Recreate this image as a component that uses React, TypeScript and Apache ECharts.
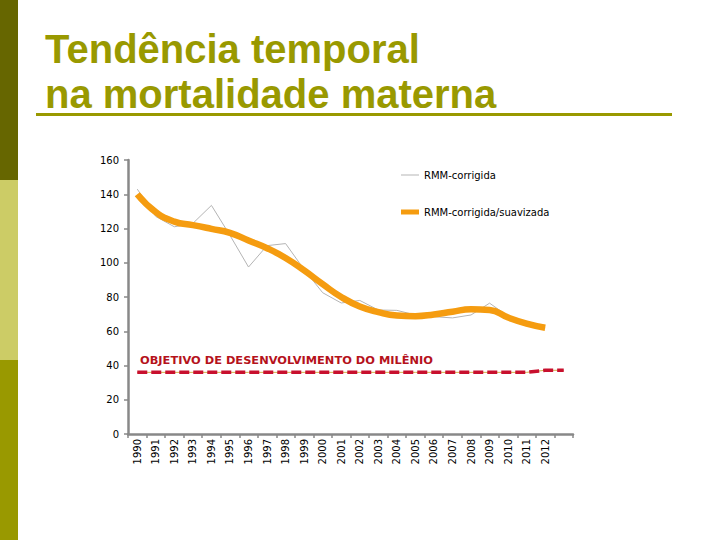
import React, { useEffect, useRef } from "react";
import * as echarts from "echarts";

const categories = [
  "1990", "1991", "1992", "1993", "1994", "1995", "1996", "1997", "1998", "1999",
  "2000", "2001", "2002", "2003", "2004", "2005", "2006", "2007", "2008", "2009",
  "2010", "2011", "2012", "",
];

const rmmCorrigida = [
  143, 127, 121, 123, 133.5, 116, 97.5, 110, 111.2, 96, 82.5, 76.5, 78, 72.4, 72.2,
  69.5, 68.5, 67.8, 69.5, 76.4, 68.8, 65.2, 62,
];

const rmmSuavizada = [
  140, 129.6, 124, 122, 119.8, 117.5, 113, 108.5, 102.8, 95.5, 87.5, 80, 74.5, 71.2,
  69.2, 68.8, 69.8, 71.4, 72.8, 72.4, 68, 64.4, 62,
];

const objetivo = [
  36, 36, 36, 36, 36, 36, 36, 36, 36, 36, 36, 36, 36, 36, 36, 36, 36, 36, 36, 36, 36, 36,
  37.2, 37.2,
];

const yTicks = { min: 0, max: 160, interval: 20 };

const titleLine1 = "Tendência temporal";
const titleLine2 = "na mortalidade materna";
const goalLabel = "OBJETIVO DE DESENVOLVIMENTO DO MILÊNIO";

export default function App() {
  const ref = useRef<HTMLDivElement>(null);

  useEffect(() => {
    if (!ref.current) return;
    const chart = echarts.init(ref.current, null, { renderer: "svg" });
    const font = "DejaVu Sans, Verdana, sans-serif";
    chart.setOption({
      animation: false,
      backgroundColor: "#ffffff",
      grid: { left: 128, right: 147, top: 160, bottom: 106, containLabel: false },
      legend: {
        orient: "vertical",
        left: 401,
        top: 170,
        padding: 0,
        itemWidth: 18,
        itemHeight: 10,
        itemGap: 27,
        itemStyle: { borderWidth: 0 },
        textStyle: { fontFamily: font, fontSize: 10, color: "#000" },
        data: [
          { name: "RMM-corrigida", icon: "path://M0,0H18V1H0Z" },
          { name: "RMM-corrigida/suavizada", icon: "path://M0,0H18V5H0Z" },
        ],
      },
      xAxis: {
        type: "category",
        data: categories,
        boundaryGap: true,
        axisLine: { show: true, lineStyle: { color: "#888", width: 2.5 } },
        axisTick: { show: true, length: 4, interval: 0, lineStyle: { color: "#888", width: 1.5 } },
        axisLabel: {
          interval: 0,
          rotate: 90,
          margin: 5,
          fontFamily: font,
          fontSize: 10,
          color: "#000",
        },
        splitLine: { show: false },
      },
      yAxis: {
        type: "value",
        min: yTicks.min,
        max: yTicks.max,
        interval: yTicks.interval,
        axisLine: { show: true, lineStyle: { color: "#888", width: 2.5 } },
        axisTick: { show: true, length: 4, lineStyle: { color: "#888", width: 1.5 } },
        axisLabel: { margin: 9, fontFamily: font, fontSize: 10, color: "#000" },
        splitLine: { show: false },
      },
      series: [
        {
          name: "Objetivo-base",
          type: "line",
          data: objetivo,
          symbol: "none",
          silent: true,
          lineStyle: { color: "#d2b04a", width: 1 },
          z: 1,
        },
        {
          name: "Objetivo",
          type: "line",
          data: objetivo,
          symbol: "none",
          silent: true,
          lineStyle: { color: "#c8102e", width: 3.5, type: [10, 4] },
          z: 2,
        },
        {
          name: "RMM-corrigida",
          type: "line",
          data: rmmCorrigida,
          symbol: "none",
          color: "#b4b4b4",
          itemStyle: { color: "#b4b4b4", borderWidth: 0 },
          lineStyle: { color: "#b4b4b4", width: 1 },
          z: 3,
        },
        {
          name: "RMM-corrigida/suavizada",
          type: "line",
          data: rmmSuavizada,
          symbol: "none",
          smooth: 0.5,
          color: "#f59c10",
          itemStyle: { color: "#f59c10", borderWidth: 0 },
          lineStyle: { color: "#f59c10", width: 6.5 },
          z: 4,
        },
      ],
      graphic: [
        { type: "rect", shape: { x: 0, y: 0, width: 18, height: 180 }, style: { fill: "#666600" }, silent: true },
        { type: "rect", shape: { x: 0, y: 180, width: 18, height: 180 }, style: { fill: "#cccc66" }, silent: true },
        { type: "rect", shape: { x: 0, y: 360, width: 18, height: 180 }, style: { fill: "#999900" }, silent: true },
        {
          type: "text",
          x: 45,
          y: 49,
          style: {
            text: titleLine1,
            font: "bold 40px 'Liberation Sans', Arial, sans-serif",
            fill: "#999900",
            verticalAlign: "middle",
            align: "left",
          },
          silent: true,
        },
        {
          type: "text",
          x: 45,
          y: 94,
          style: {
            text: titleLine2,
            font: "bold 40px 'Liberation Sans', Arial, sans-serif",
            fill: "#999900",
            verticalAlign: "middle",
            align: "left",
          },
          silent: true,
        },
        {
          type: "rect",
          shape: { x: 36, y: 113, width: 636, height: 3 },
          style: { fill: "#999900" },
          silent: true,
        },
        {
          type: "text",
          x: 140,
          y: 361,
          scaleX: 1.14,
          style: {
            text: goalLabel,
            font: "bold 10px 'DejaVu Sans', Verdana, sans-serif",
            fill: "#b5121b",
            verticalAlign: "middle",
            align: "left",
          },
          silent: true,
        },
      ],
    });
    return () => chart.dispose();
  }, []);

  return (
    <div
      ref={ref}
      style={{ position: "absolute", left: 0, top: 0, width: 720, height: 540 }}
    />
  );
}
